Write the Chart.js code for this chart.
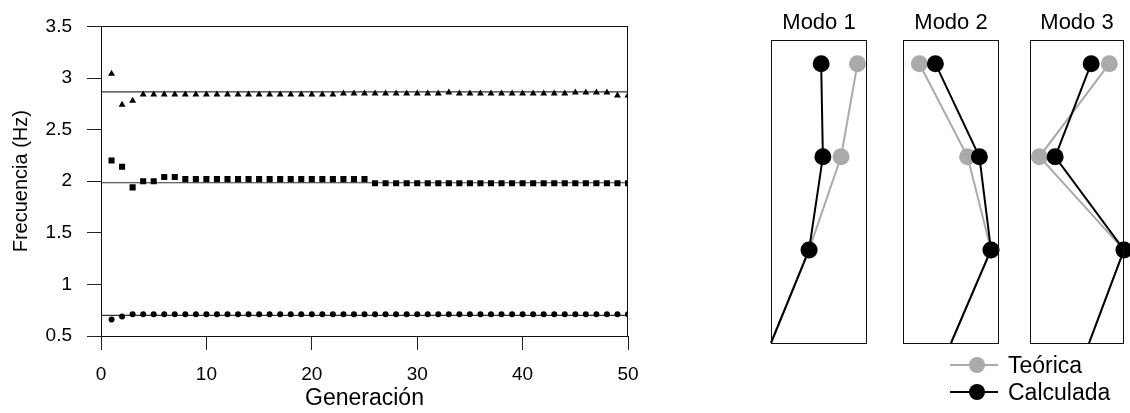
<!DOCTYPE html>
<html>
<head>
<meta charset="utf-8">
<script src="https://cdn.jsdelivr.net/npm/chart.js@4/dist/chart.umd.min.js"></script>
<style>
  html,body{margin:0;padding:0;background:#fff;overflow:hidden;width:1130px;height:413px;}
  canvas{position:absolute;top:0;}
  #main{left:0}
  #m1{left:761px} #m2{left:893px} #m3{left:1020px}
  .leg{position:absolute;left:950px;width:180px;height:26px;font:23px "Liberation Sans",Arial,sans-serif;color:#000;}
  .leg .ln{position:absolute;left:0;top:12px;width:48px;height:2px;}
  .leg .dot{position:absolute;left:19px;top:5px;width:16px;height:16px;border-radius:50%;}
  .leg .tx{position:absolute;left:58px;top:0;line-height:26px;}
</style>
</head>
<body>
<canvas id="main" width="660" height="413"></canvas>
<canvas id="m1" width="116" height="353"></canvas>
<canvas id="m2" width="116" height="353"></canvas>
<canvas id="m3" width="120" height="353"></canvas>
<div id="legend"></div>
<script>
/* frecuencias identificadas por generacion */
const generaciones = [1,2,3,4,5,6,7,8,9,10,11,12,13,14,15,16,17,18,19,20,21,22,23,24,25,
  26,27,28,29,30,31,32,33,34,35,36,37,38,39,40,41,42,43,44,45,46,47,48,49,50];
const frecModo1 = [0.66,0.69,0.71,0.71,0.71,0.71,0.71,0.71,0.71,0.71,0.71,0.71,0.71,0.71,0.71,0.71,0.71,0.71,0.71,0.71,0.71,0.71,0.71,0.71,0.71,
  0.71,0.71,0.71,0.71,0.71,0.71,0.71,0.71,0.71,0.71,0.71,0.71,0.71,0.71,0.71,0.71,0.71,0.71,0.71,0.71,0.71,0.71,0.71,0.71,0.71];
const frecModo2 = [2.20,2.14,1.94,2.00,2.00,2.04,2.04,2.02,2.02,2.02,2.02,2.02,2.02,2.02,2.02,2.02,2.02,2.02,2.02,2.02,2.02,2.02,2.02,2.02,2.02,
  1.98,1.98,1.98,1.98,1.98,1.98,1.98,1.98,1.98,1.98,1.98,1.98,1.98,1.98,1.98,1.98,1.98,1.98,1.98,1.98,1.98,1.98,1.98,1.98,1.98];
const frecModo3 = [3.04,2.74,2.78,2.84,2.84,2.84,2.84,2.84,2.84,2.84,2.84,2.84,2.84,2.84,2.84,2.84,2.84,2.84,2.84,2.84,2.84,2.84,2.85,2.85,2.85,
  2.85,2.85,2.85,2.85,2.85,2.85,2.85,2.86,2.85,2.85,2.85,2.85,2.85,2.85,2.85,2.85,2.85,2.85,2.85,2.86,2.86,2.86,2.86,2.83,2.83];
const frecTeoricas = [0.70, 1.985, 2.865];
const rangoGen = [0, 50];
const yTicks = [0.5, 3.5, 0.5];  // min, max, paso

/* formas modales: desplazamiento por nivel (base, 1, 2, 3) */
const niveles = [0, 1, 2, 3];
const modo1Teorica   = [0, 0.44, 0.81, 1.00];
const modo1Calculada = [0, 0.44, 0.60, 0.58];
const modo2Teorica   = [0, 1.00, 0.415, -0.79];
const modo2Calculada = [0, 1.00, 0.71, -0.39];
const modo3Teorica   = [0, 1.00, -1.42, 0.58];
const modo3Calculada = [0, 1.00, -0.97, 0.06];
const titulosModo = ['Modo 1', 'Modo 2', 'Modo 3'];
const etiquetasLeyenda = ['Teórica', 'Calculada'];

const FONT = '"Liberation Sans", Arial, sans-serif';
Chart.defaults.font.family = FONT;
Chart.defaults.color = '#000';
Chart.defaults.animation = false;

const boxPlugin = {
  id:'box',
  afterDraw(chart){
    const a = chart.chartArea, c = chart.ctx;
    c.save(); c.strokeStyle = '#111'; c.lineWidth = 1;
    c.strokeRect(Math.round(a.left)+0.5, Math.round(a.top)+0.5, Math.round(a.right-a.left)-1, Math.round(a.bottom-a.top));
    c.restore();
  }
};

const pts = ys => generaciones.map((g,i)=>({x:g, y:ys[i]}));
const mk = (ys, style, r) => ({ data: pts(ys), pointStyle: style, pointRadius: r, pointBackgroundColor:'#000', pointBorderWidth:0, showLine:false });

const lineSets = frecTeoricas.map(f => ({
  data:[{x:rangoGen[0], y:f},{x:rangoGen[1], y:f}], showLine:true, pointRadius:0,
  borderColor:'#333', borderWidth:1.2
}));

new Chart(document.getElementById('main'), {
  type:'scatter',
  data:{ datasets:[ mk(frecModo3,'triangle',4), mk(frecModo2,'rect',4.3), mk(frecModo1,'circle',3) ].concat(lineSets) },
  options:{
    responsive:false, devicePixelRatio:1,
    layout:{ padding:{ top:16, right:32, left:0, bottom:0 } },
    plugins:{ legend:{display:false}, tooltip:{enabled:false} },
    scales:{
      x:{ type:'linear', min:rangoGen[0], max:rangoGen[1],
          ticks:{ stepSize:10, font:{size:19}, padding:13, maxRotation:0 },
          grid:{ drawOnChartArea:false, tickLength:14, color:'#222' },
          border:{ color:'#111' },
          title:{ display:true, text:'Generación', font:{size:23}, padding:{top:0, bottom:1} },
          afterFit(s){ s.height = 77; } },
      y:{ min:yTicks[0], max:yTicks[1],
          ticks:{ stepSize:yTicks[2], font:{size:19}, padding:15, callback:v => String(v) },
          grid:{ drawOnChartArea:false, tickLength:14, color:'#222' },
          border:{ color:'#111' },
          title:{ display:true, text:'Frecuencia (Hz)', font:{size:20}, padding:{top:9, bottom:0} },
          afterFit(s){ s.width = 101; } }
    }
  },
  plugins:[boxPlugin]
});

function panel(id, titulo, teo, calc, xmin, xmax, padR){
  const ds = (vals, color, label) => ({
    label, data: niveles.map((n,i)=>({x:vals[i], y:n})), showLine:true,
    borderColor:color, borderWidth:2, pointBackgroundColor:color, pointBorderWidth:0,
    pointRadius:[0,8.5,8.5,8.5], clip:false
  });
  new Chart(document.getElementById(id), {
    type:'scatter',
    data:{ datasets:[ ds(calc,'#000',etiquetasLeyenda[1]), ds(teo,'#aaa',etiquetasLeyenda[0]) ] },
    options:{
      responsive:false, devicePixelRatio:1,
      layout:{ padding:{ left:10, right:padR, top:0, bottom:10 } },
      plugins:{ legend:{display:false}, tooltip:{enabled:false},
        title:{ display:true, text:titulo, font:{size:22, weight:'normal'}, color:'#000', padding:{top:10, bottom:4} } },
      scales:{ x:{ type:'linear', min:xmin, max:xmax, display:false }, y:{ min:0, max:3.25, display:false } }
    },
    plugins:[boxPlugin]
  });
}
panel('m1', titulosModo[0], modo1Teorica, modo1Calculada, 0, 1.11, 10);
panel('m2', titulosModo[1], modo2Teorica, modo2Calculada, -1.2, 1.2, 10);
panel('m3', titulosModo[2], modo3Teorica, modo3Calculada, -1.69, 1.0, 16);

// leyenda
const legColors = ['#aaa', '#000'], legTop = [352, 379];
const legend = document.getElementById('legend');
etiquetasLeyenda.forEach((t,i)=>{
  const d = document.createElement('div'); d.className='leg'; d.style.top = legTop[i]+'px';
  d.innerHTML = '<span class="ln" style="background:'+legColors[i]+'"></span><span class="dot" style="background:'+legColors[i]+'"></span><span class="tx">'+t+'</span>';
  legend.appendChild(d);
});
</script>
</body>
</html>
